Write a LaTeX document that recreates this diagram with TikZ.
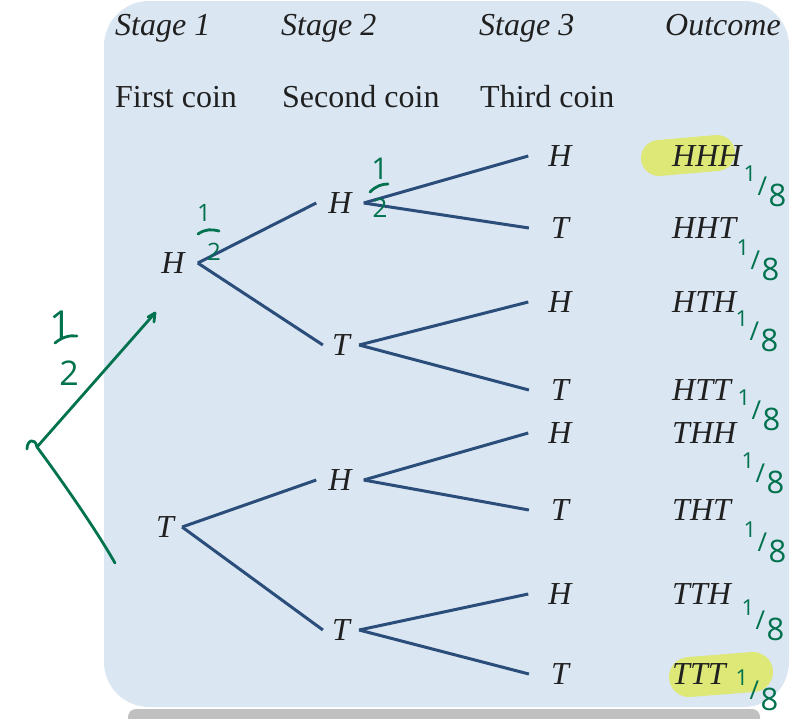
\documentclass[tikz,border=0pt]{standalone}
\usepackage{fontspec}
\setmainfont{Liberation Serif}
\newfontfamily\handfont{Open Sans}
\usetikzlibrary{arrows.meta}
\definecolor{panel}{RGB}{219,230,243}
\definecolor{branch}{RGB}{42,77,122}
\definecolor{ink}{RGB}{32,32,32}
\definecolor{pen}{RGB}{0,114,78}
\definecolor{hilite}{RGB}{221,232,118}
\definecolor{shadowgray}{RGB}{192,192,192}
\newcommand{\oneeighthmark}{\raisebox{16pt}{\fontsize{22}{22}\selectfont 1}\kern1.5pt\raisebox{2pt}{\fontsize{26}{26}\selectfont /}\kern1.5pt\raisebox{-9pt}{\fontsize{31}{31}\selectfont 8}}
\begin{document}
\begin{tikzpicture}[x=1pt,y=-1pt,
  txt/.style={inner sep=0pt, text=ink, font=\fontsize{32}{38}\selectfont},
  lab/.style={inner sep=0pt, text=ink, font=\fontsize{32}{38}\selectfont\itshape},
  branchline/.style={draw=branch, line width=3pt},
  penline/.style={draw=pen, line width=2.8pt, line cap=round, line join=round},
  hand/.style={inner sep=0pt, text=pen, font=\handfont},
  eighth/.style={hand},
  marker/.style={draw=hilite, line cap=round}]
\useasboundingbox (0,0) rectangle (803,718);
% panel and shadow
\fill[shadowgray, rounded corners=8pt] (128,709) rectangle (760,730);
\fill[panel, rounded corners=45pt] (104,1) rectangle (789,707);
% highlights
\draw[marker, line width=36pt] (659,158) -- (717,153);
\draw[marker, line width=40pt] (689,677) -- (753,672);
% headers
\node[lab, anchor=base west] (h1) at (115,35) {Stage 1};
\node[lab, anchor=base west] (h2) at (281,35) {Stage 2};
\node[lab, anchor=base west] (h3) at (479,35) {Stage 3};
\node[lab, anchor=base west] (h4) at (665,35) {Outcome};
\node[txt, anchor=base west] (c1) at (115,107) {First coin};
\node[txt, anchor=base west] (c2) at (282,107) {Second coin};
\node[txt, anchor=base west] (c3) at (480,107) {Third coin};
% stage 1
\node[lab, inner xsep=13pt] (a) at (173,263) {H};
\node[lab, inner xsep=8pt] (b) at (165,527) {T};
% stage 2
\node[lab, inner xsep=12pt] (aH) at (340,203) {H};
\node[lab, inner xsep=9pt] (aT) at (341,345) {T};
\node[lab, inner xsep=12pt] (bH) at (340,480) {H};
\node[lab, inner xsep=9pt] (bT) at (341,630) {T};
% stage 3
\node[lab, inner xsep=20pt] (aHH) at (560,156) {H};
\node[lab, inner xsep=22pt] (aHT) at (560,228) {T};
\node[lab, inner xsep=20pt] (aTH) at (560,302) {H};
\node[lab, inner xsep=22pt] (aTT) at (560,390) {T};
\node[lab, inner xsep=20pt] (bHH) at (560,433) {H};
\node[lab, inner xsep=22pt] (bHT) at (560,510) {T};
\node[lab, inner xsep=20pt] (bTH) at (560,594) {H};
\node[lab, inner xsep=22pt] (bTT) at (560,674) {T};
% outcomes
\node[lab, anchor=west] (o1) at (672,156) {HHH};
\node[lab, anchor=west] (o2) at (672,228) {HHT};
\node[lab, anchor=west] (o3) at (672,302) {HTH};
\node[lab, anchor=west] (o4) at (672,390) {HTT};
\node[lab, anchor=west] (o5) at (672,433) {THH};
\node[lab, anchor=west] (o6) at (672,510) {THT};
\node[lab, anchor=west] (o7) at (672,594) {TTH};
\node[lab, anchor=west] (o8) at (672,674) {TTT};
% branches
\draw[branchline] (a.east) -- (aH.west);
\draw[branchline] (a.east) -- (aT.west);
\draw[branchline] (b.east) -- (bH.west);
\draw[branchline] (b.east) -- (bT.west);
\draw[branchline] (aH.east) -- (aHH.west);
\draw[branchline] (aH.east) -- (aHT.west);
\draw[branchline] (aT.east) -- (aTH.west);
\draw[branchline] (aT.east) -- (aTT.west);
\draw[branchline] (bH.east) -- (bHH.west);
\draw[branchline] (bH.east) -- (bHT.west);
\draw[branchline] (bT.east) -- (bTH.west);
\draw[branchline] (bT.east) -- (bTT.west);
% handwritten annotations
\coordinate (v) at (37,447);
\coordinate (up) at (155,313);
\coordinate (dn) at (115,563);
\draw[penline] (27,449) .. controls (27,440) and (35,437) .. (v) -- (up);
\draw[penline] (148,317) -- (up) -- (154,322);
\draw[penline] (v) .. controls (60,478) and (95,528) .. (dn);
% left fraction
\node[hand, font=\handfont\fontsize{40}{40}\selectfont] (l1) at (61,325) {1};
\draw[penline] (55,343) .. controls (62,337) and (70,335) .. (77,336);
\node[hand, font=\handfont\fontsize{34}{34}\selectfont] (l2) at (69,373) {2};
% fraction near stage-1 H
\node[hand, font=\handfont\fontsize{24}{24}\selectfont] (m1) at (204,213) {1};
\draw[penline] (198,234) .. controls (205,229) and (212,229) .. (219,231);
\node[hand, font=\handfont\fontsize{24}{24}\selectfont] (m2) at (214,252) {2};
% fraction near stage-2 H
\node[hand, font=\handfont\fontsize{30}{30}\selectfont] (n1) at (380,169) {1};
\draw[penline] (370,192) .. controls (376,186) and (382,184) .. (388,184);
\node[hand, font=\handfont\fontsize{26}{26}\selectfont] (n2) at (380,208) {2};
% one-eighth marks
\node[eighth] (e1) at (765,186) {\oneeighthmark};
\node[eighth] (e2) at (758,260) {\oneeighthmark};
\node[eighth] (e3) at (757,331) {\oneeighthmark};
\node[eighth] (e4) at (759,410) {\oneeighthmark};
\node[eighth] (e5) at (763,473) {\oneeighthmark};
\node[eighth] (e6) at (765,542) {\oneeighthmark};
\node[eighth] (e7) at (763,620) {\oneeighthmark};
\node[eighth] (e8) at (757,690) {\oneeighthmark};
\end{tikzpicture}
\end{document}
